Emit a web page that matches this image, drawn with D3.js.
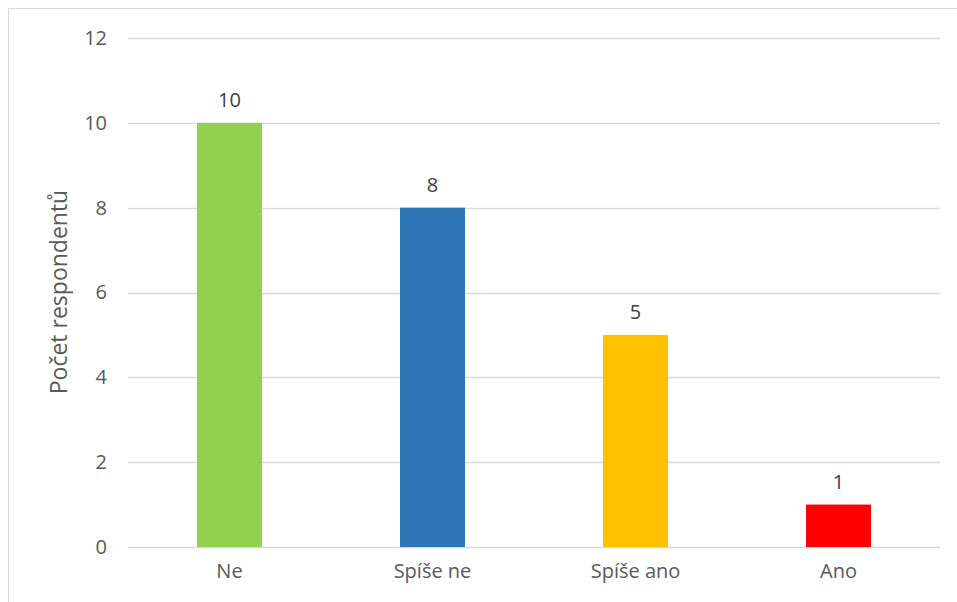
<!DOCTYPE html>
<html lang="cs">
<head>
  <meta charset="UTF-8">
  <title>Počet respondentů</title>
  <script src="https://d3js.org/d3.v7.min.js"></script>
  <style>
    body { margin: 0; background: #fff; font-family: "Open Sans", sans-serif; }
    svg { display: block; }
  </style>
</head>
<body>
  <script>
    const categories = ["Ne", "Spíše ne", "Spíše ano", "Ano"];
    const values = [10, 8, 5, 1];
    const colors = ["#92D050", "#2E75B6", "#FFC000", "#FF0000"];
    const yTicks = [0, 2, 4, 6, 8, 10, 12];

    const width = 957, height = 602;
    const margin = { top: 38, right: 17, bottom: 55, left: 128 };

    const svg = d3.select("body").append("svg")
      .attr("width", width)
      .attr("height", height);

    // outer chart border
    svg.append("rect")
      .attr("x", 8.5).attr("y", 8.5)
      .attr("width", width + 20).attr("height", height + 20)
      .attr("fill", "none")
      .attr("stroke", "#d9d9d9")
      .attr("stroke-width", 1);

    const x = d3.scaleBand()
      .domain(categories)
      .range([margin.left, width - margin.right])
      .paddingInner(0.68)
      .paddingOuter(0.34);

    const y = d3.scaleLinear()
      .domain([0, 12])
      .range([height - margin.bottom, margin.top]);

    // gridlines
    svg.append("g")
      .selectAll("line")
      .data(yTicks)
      .enter()
      .append("line")
      .attr("x1", margin.left)
      .attr("x2", width - margin.right)
      .attr("y1", d => Math.round(y(d)) + 0.5)
      .attr("y2", d => Math.round(y(d)) + 0.5)
      .attr("stroke", "#d9d9d9")
      .attr("stroke-width", 1.3);

    // y tick labels
    const yAxis = d3.axisLeft(y).tickValues(yTicks).tickSize(0).tickPadding(0);
    const gy = svg.append("g")
      .attr("transform", `translate(${margin.left - 21},0)`)
      .call(yAxis);
    gy.select(".domain").remove();
    gy.selectAll("text")
      .attr("fill", "#595959")
      .style("font-size", "20px")
      .style("font-family", "Open Sans, sans-serif");

    // bars
    svg.selectAll("rect.bar")
      .data(values)
      .enter()
      .append("rect")
      .attr("class", "bar")
      .attr("x", (d, i) => x(categories[i]))
      .attr("width", x.bandwidth())
      .attr("y", d => y(d))
      .attr("height", d => y(0) - y(d))
      .attr("fill", (d, i) => colors[i]);

    // value labels
    svg.selectAll("text.val")
      .data(values)
      .enter()
      .append("text")
      .attr("class", "val")
      .attr("x", (d, i) => x(categories[i]) + x.bandwidth() / 2)
      .attr("y", d => y(d) - 16)
      .attr("text-anchor", "middle")
      .attr("fill", "#404040")
      .style("font-size", "20px")
      .text(d => d);

    // x axis labels
    const xAxis = d3.axisBottom(x).tickSize(0).tickPadding(0);
    const gx = svg.append("g")
      .attr("transform", `translate(0,${y(0) + 17})`)
      .call(xAxis);
    gx.select(".domain").remove();
    gx.selectAll("text")
      .attr("fill", "#595959")
      .style("font-size", "20px")
      .style("font-family", "Open Sans, sans-serif");

    // y axis title
    svg.append("text")
      .attr("transform", `translate(67,292) rotate(-90)`)
      .attr("text-anchor", "middle")
      .attr("fill", "#595959")
      .style("font-size", "23px")
      .text("Počet respondentů");
  </script>
</body>
</html>
